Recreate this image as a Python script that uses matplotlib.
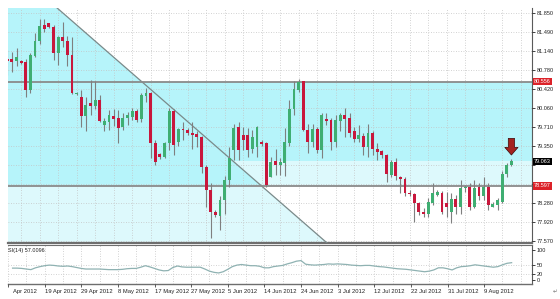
import matplotlib
matplotlib.use("Agg")
import matplotlib.pyplot as plt
from matplotlib.transforms import blended_transform_factory

plt.rcParams['font.family'] = ['Liberation Sans', 'DejaVu Sans']

W, H = 560, 299

# daily OHLC, first bar is index -1 (partly hidden at the left edge)
FIRST_BAR = -1
opens = [
    80.99, 80.99, 80.95, 80.94, 80.92, 80.39, 81.04, 81.31, 81.62, 81.65,
    81.58, 81.09, 81.39, 81.31, 81.06, 80.32, 80.27, 79.91, 80.16, 80.10,
    80.21, 79.74, 79.79, 79.91, 79.87, 79.70, 79.87, 79.90, 80.01, 79.85,
    80.29, 80.35, 79.40, 79.20, 79.15, 79.40, 80.00, 79.43, 79.66, 79.65,
    79.60, 79.57, 79.51, 78.96, 78.53, 78.10, 78.03, 78.33, 78.71, 79.27,
    79.70, 79.55, 79.55, 79.30, 79.33, 79.43, 79.41, 78.77, 79.07, 78.99,
    79.03, 79.41, 80.04, 80.40, 80.56, 79.65, 79.43, 79.66, 79.27, 79.85,
    79.84, 79.43, 79.82, 79.93, 79.87, 79.62, 79.47, 79.54, 79.33, 79.59,
    79.30, 79.26, 79.18, 78.80, 79.05, 78.77, 78.72, 78.47, 78.44, 78.27,
    78.11, 78.08, 78.28, 78.43, 78.47, 78.27, 78.10, 78.35, 78.21, 78.55,
    78.58, 78.20, 78.58, 78.40, 78.57, 78.21, 78.24, 78.30, 78.82, 78.99,
]
highs = [
    81.15, 81.12, 81.18, 80.97, 80.99, 81.09, 81.46, 81.73, 81.74, 81.66,
    81.62, 81.41, 81.68, 81.41, 81.40, 80.37, 80.40, 80.27, 80.59, 80.56,
    80.30, 79.87, 80.02, 80.05, 80.02, 79.97, 79.99, 80.07, 80.05, 80.34,
    80.43, 80.37, 79.46, 79.21, 79.43, 80.07, 80.05, 79.68, 79.79, 79.68,
    79.79, 79.62, 79.54, 78.99, 78.66, 78.15, 78.40, 78.78, 79.33, 79.77,
    79.80, 79.71, 79.68, 79.65, 79.72, 79.46, 79.43, 79.15, 79.30, 79.12,
    79.68, 80.21, 80.56, 80.60, 80.57, 79.77, 79.77, 79.71, 79.96, 79.96,
    79.87, 79.93, 79.96, 80.07, 79.96, 79.71, 79.74, 79.59, 79.77, 79.62,
    79.40, 79.28, 79.20, 79.08, 79.12, 78.78, 78.76, 78.52, 78.47, 78.30,
    78.18, 78.37, 78.66, 78.52, 78.51, 78.49, 78.46, 78.43, 78.71, 78.62,
    78.65, 78.71, 78.65, 78.77, 78.65, 78.30, 78.37, 78.87, 79.02, 79.10,
]
lows = [
    80.68, 80.74, 80.84, 80.88, 80.27, 80.35, 81.02, 81.27, 81.49, 81.56,
    80.96, 80.87, 81.21, 80.84, 80.32, 80.30, 79.71, 79.62, 79.93, 80.05,
    79.80, 79.62, 79.65, 79.72, 79.41, 79.65, 79.74, 79.84, 79.79, 79.80,
    80.18, 79.12, 78.99, 79.10, 79.12, 79.28, 79.18, 79.34, 79.46, 79.55,
    79.30, 79.33, 78.85, 78.21, 77.63, 78.02, 77.77, 78.08, 78.58, 79.08,
    79.08, 79.27, 79.15, 79.21, 79.15, 79.34, 78.58, 78.76, 78.80, 78.80,
    78.78, 79.34, 79.93, 80.37, 79.62, 79.21, 79.33, 79.21, 79.12, 79.74,
    79.27, 79.33, 79.62, 79.52, 79.52, 79.43, 79.43, 79.18, 79.15, 79.18,
    79.08, 79.12, 78.68, 78.77, 78.71, 78.46, 78.40, 78.40, 77.93, 78.05,
    78.02, 78.01, 78.24, 78.40, 78.08, 78.02, 77.90, 78.08, 78.08, 78.49,
    78.15, 78.18, 78.33, 78.33, 78.15, 78.20, 78.15, 78.27, 78.77, 78.97,
]
closes = [
    80.95, 80.93, 81.01, 80.91, 80.39, 81.05, 81.31, 81.60, 81.54, 81.58,
    81.09, 81.39, 81.31, 81.06, 80.35, 80.35, 79.91, 80.12, 80.10, 80.22,
    79.82, 79.82, 79.93, 79.86, 79.68, 79.87, 79.93, 80.01, 79.84, 80.30,
    80.35, 79.40, 79.05, 79.15, 79.41, 80.00, 79.37, 79.66, 79.64, 79.59,
    79.55, 79.51, 78.96, 78.53, 78.11, 78.05, 78.33, 78.71, 79.12, 79.68,
    79.27, 79.46, 79.27, 79.52, 79.71, 79.39, 78.62, 79.05, 78.99, 79.05,
    79.43, 80.04, 80.41, 80.54, 79.65, 79.43, 79.66, 79.27, 79.93, 79.82,
    79.43, 79.84, 79.93, 79.85, 79.60, 79.47, 79.55, 79.33, 79.60, 79.30,
    79.24, 79.18, 78.83, 79.05, 78.78, 78.73, 78.46, 78.45, 78.27, 78.10,
    78.07, 78.30, 78.47, 78.49, 78.10, 78.21, 78.35, 78.21, 78.55, 78.58,
    78.20, 78.55, 78.40, 78.58, 78.24, 78.26, 78.33, 78.83, 78.99, 79.063,
]
si_values = [
    39, 39, 38, 36, 34, 40, 44, 47, 49, 48,
    46, 45, 46, 44, 41, 38, 36, 36, 36, 36,
    35, 34, 34, 34, 35, 37, 38, 38, 42, 47,
    43, 38, 33, 30, 31, 41, 46, 43, 42, 42,
    42, 42, 36, 29, 25, 23, 27, 35, 44, 49,
    51, 49, 47, 47, 45, 40, 40, 44, 46, 48,
    53, 57, 62, 64, 52, 50, 49, 50, 51, 53,
    52, 53, 52, 51, 49, 48, 47, 48, 48, 46,
    44, 43, 41, 39, 37, 36, 35, 33, 31, 29,
    27, 29, 33, 40, 40, 37, 33, 40, 44, 45,
    47, 50, 48, 46, 44, 42, 44, 50, 55, 57,
]

# grid levels of the price scale; two of them sit under the price boxes
price_ticks = [81.85, 81.49, 81.14, 80.78, 80.42, 80.06, 79.71, 79.35,
               79.00, 78.64, 78.28, 77.92, 77.57]
price_labels = ['81.850', '81.490', '81.140', '80.780', '80.420', '80.060',
                '79.710', '79.350', '', '', '78.280', '77.920', '77.570']
date_labels = ['10 Apr 2012', '19 Apr 2012', '29 Apr 2012', '8 May 2012',
               '17 May 2012', '27 May 2012', '5 Jun 2012', '14 Jun 2012',
               '24 Jun 2012', '3 Jul 2012', '12 Jul 2012', '22 Jul 2012',
               '31 Jul 2012', '9 Aug 2012']
date_bars = [-2, 6, 14, 22, 30, 38, 46, 54, 62, 70, 78, 86, 94, 102]
si_ticks = [100, 50, 20, 0]
si_label = 'SI(14) 57.0096'

resistance = 80.556
support = 78.597
zone_low = 79.063
trend_bars = [9.75, 68.1]
trend_prices = [81.94, 77.53]

RED = '#c8173c'
GREEN = '#3fae72'
WICK = '#7f7f7f'
CYAN = '#b6f4fa'
LIGHT = '#ddf9fc'
GRID = '#c4c4c4'
LINE = '#8a8a8a'

XMIN, XMAX = -0.85, 112.45
YMIN, YMAX = 77.527, 81.938

fig = plt.figure(figsize=(W / 100, H / 100), dpi=100)
ax = fig.add_axes([8 / W, 1 - 243 / H, 524 / W, 235 / H])
ax2 = fig.add_axes([8 / W, 1 - 284 / H, 524 / W, 39 / H])


def trend_x(p):
    slope = (trend_prices[1] - trend_prices[0]) / (trend_bars[1] - trend_bars[0])
    return trend_bars[0] + (p - trend_prices[0]) / slope


# shaded zones
ax.axhspan(support, zone_low, color=LIGHT, lw=0, zorder=0)
ax.fill([XMIN, trend_x(support), trend_x(YMIN), XMIN],
        [support, support, YMIN, YMIN], color=LIGHT, lw=0, zorder=0)
ax.fill([XMIN, trend_x(YMAX), trend_x(support), XMIN],
        [YMAX, YMAX, support, support], color=CYAN, lw=0, zorder=0.1)
ax.axhspan(zone_low, resistance, color=CYAN, lw=0, zorder=0.1)

ax.plot(trend_bars, trend_prices, color='#7a8a8a', lw=0.9, zorder=2.6)
ax.axhline(resistance, color=LINE, lw=1.3, zorder=2.6)
ax.axhline(support, color=LINE, lw=1.3, zorder=2.6)

# candles
xs = list(range(FIRST_BAR, FIRST_BAR + len(opens)))
colors = [GREEN if c >= o else RED for o, c in zip(opens, closes)]
ax.vlines(xs, lows, highs, color=WICK, lw=0.8, zorder=3)
ax.bar(xs, [max(abs(c - o), 0.015) for o, c in zip(opens, closes)],
       bottom=[min(o, c) for o, c in zip(opens, closes)],
       width=0.62, color=colors, lw=0, zorder=4)

# arrow over the last bar
ax.annotate('', xy=(xs[-1], highs[-1]), xytext=(0, 15), textcoords='offset points',
            arrowprops=dict(arrowstyle='simple,head_length=0.55,head_width=0.95,tail_width=0.45',
                            fc='#a3221f', ec='#3a0808', lw=0.5, shrinkA=0, shrinkB=3),
            zorder=6)

grid_bars = list(range(-2, 112, 4))
for a in (ax, ax2):
    a.set_xlim(XMIN, XMAX)
    a.set_axisbelow(False)
    for x in grid_bars:
        a.axvline(x, color=GRID, lw=0.6, ls=(0, (1, 2)), zorder=2.5)
    a.spines['left'].set_visible(False)
    a.spines['top'].set_visible(False)
    a.spines['right'].set_color('#5a5a5a')
    a.spines['right'].set_linewidth(0.8)
    a.yaxis.tick_right()
    a.tick_params(axis='y', length=2, width=0.6, pad=1.5, labelsize=4.0,
                  colors='#222222')

ax.set_ylim(YMIN, YMAX)
ax.set_yticks(price_ticks)
ax.set_yticklabels(price_labels)
for p in price_ticks:
    ax.axhline(p, color=GRID, lw=0.6, ls=(0, (1, 2)), zorder=2.5)
ax.set_xticks([])
ax.spines['bottom'].set_color('#6e6e6e')
ax.spines['bottom'].set_linewidth(1.6)

# price boxes on the right scale
for val, bg in ((resistance, '#dc2229'), (zone_low, '#000000'), (support, '#dc2229')):
    ax.text(1.004, val, f'{val:.3f}', transform=blended_transform_factory(ax.transAxes, ax.transData),
            ha='left', va='center', fontsize=4.0, color='white', clip_on=False, zorder=10,
            bbox=dict(boxstyle='square,pad=0.2', fc=bg, ec='none'))

# indicator panel
ax2.plot(xs, si_values, color='#8fb2b2', lw=0.9, zorder=3)
ax2.set_ylim(-13.6, 115.6)
ax2.set_yticks(si_ticks)
ax2.set_yticklabels([str(t) for t in si_ticks])
for v in (50, 20):
    ax2.axhline(v, color=GRID, lw=0.6, ls=(0, (1, 2)), zorder=2.5)
ax2.spines['top'].set_color('#6e6e6e')
ax2.spines['top'].set_visible(True)
ax2.spines['top'].set_linewidth(0.8)
ax2.spines['bottom'].set_color('#6e6e6e')
ax2.spines['bottom'].set_linewidth(1.0)
ax2.set_xticks(date_bars)
ax2.set_xticklabels([])
ax2.tick_params(axis='x', length=2, width=0.6, colors='#444444')
ax2.text(0.0, 0.86, si_label, transform=ax2.transAxes, ha='left', va='center',
         fontsize=4.0, color='#222222')

# date labels start at their bar; a label that starts left of the chart
# only shows the part that falls inside (the day number is cut off)
tr = blended_transform_factory(ax2.transData, ax2.transAxes)
for b, lab in zip(date_bars, date_labels):
    if b < XMIN:
        lab = lab.split(' ', 1)[1]
        b = XMIN
    ax2.text(b, -0.18, lab, transform=tr, ha='left', va='center',
             fontsize=4.2, color='#222222')

fig.text(555 / W, 1 - 292 / H, '\u21b5', fontsize=4, color='#777777', ha='center', va='center')

fig.savefig('out.png', dpi=100)
